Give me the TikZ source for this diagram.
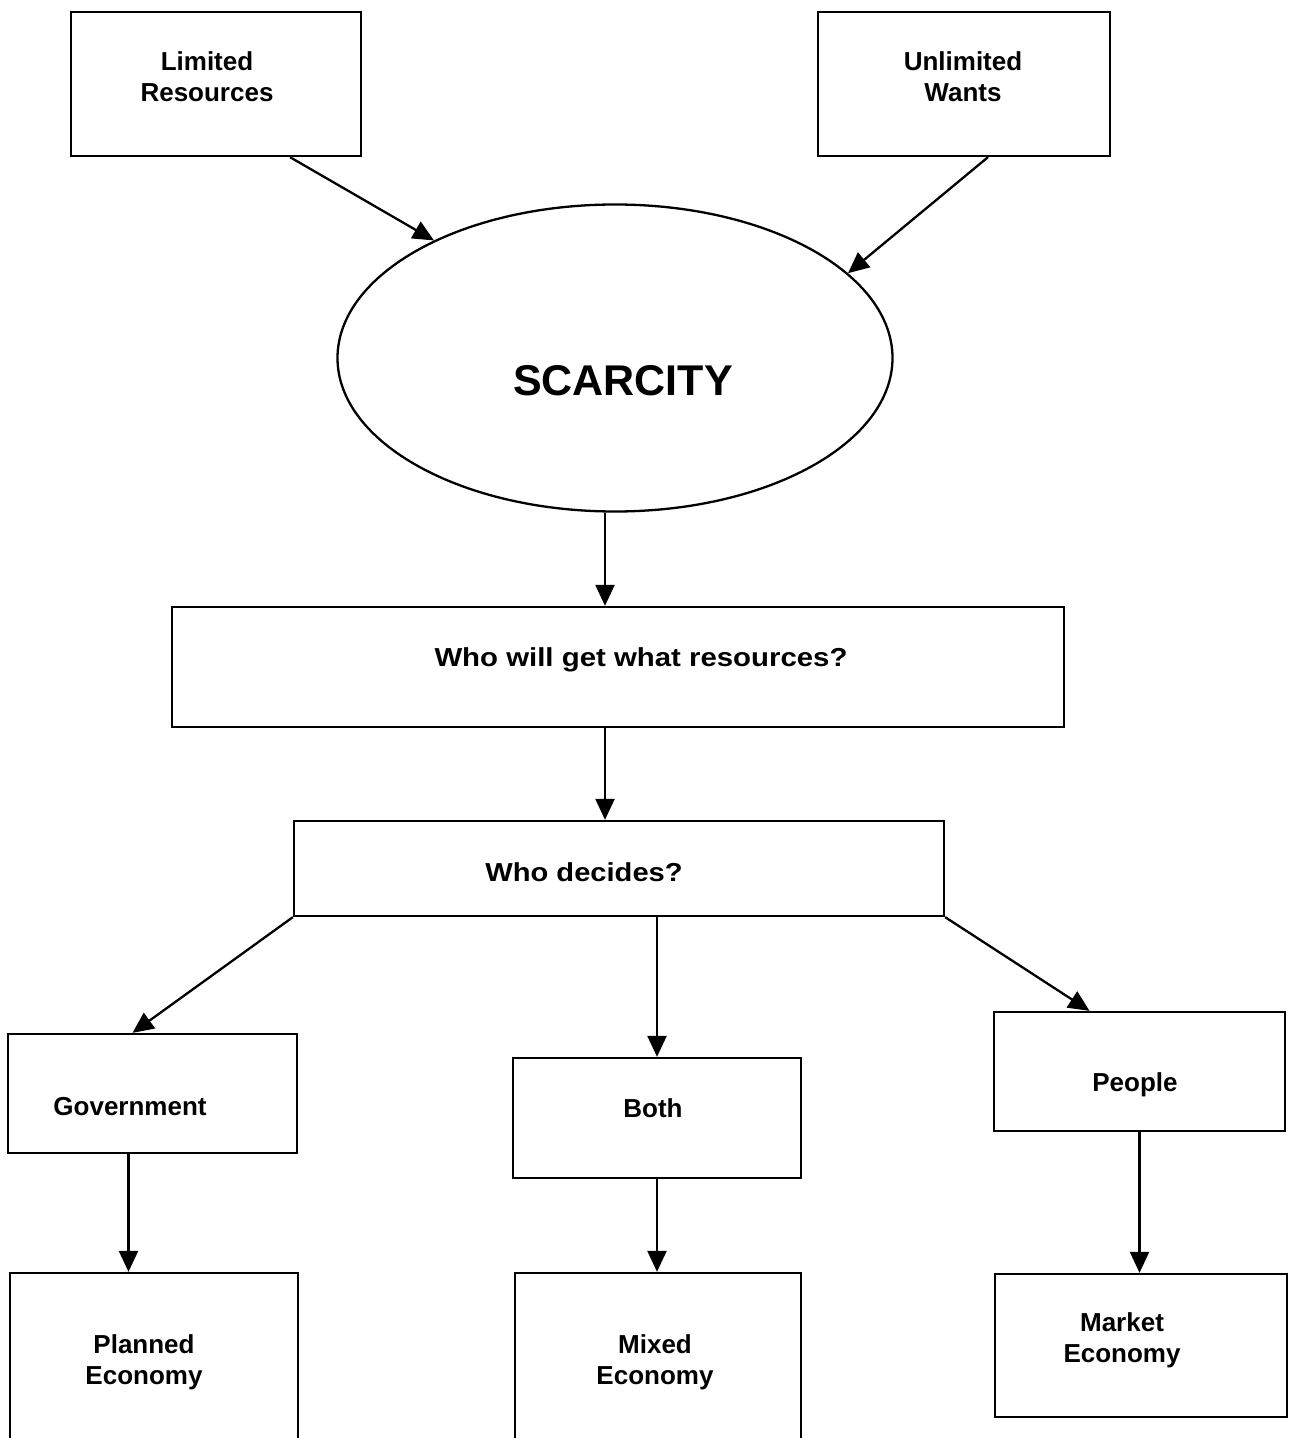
\documentclass[tikz,border=0pt]{standalone}
\usepackage{fontspec}
\setmainfont{Liberation Sans}
\usetikzlibrary{arrows.meta,calc,shapes.geometric}
\begin{document}
\begin{tikzpicture}[x=0.5pt,y=-0.5pt,
  box/.style={draw=black,line width=1.15pt,inner sep=0pt,rectangle},
  txt/.style={font=\bfseries\fontsize{13pt}{15.5pt}\selectfont,align=center,inner sep=0pt},
  arr/.style={line width=1.15pt,-{Triangle[length=10.5pt,width=9.5pt]}}]
\useasboundingbox (0,0) rectangle (1296,1438);
\clip (0,0) rectangle (1296,1438);
% boxes
\node[box,minimum width=145pt,minimum height=72pt] (lim) at (216,84) {};
\node[txt] (limt) at (207,77) {Limited\\Resources};
\node[box,minimum width=146pt,minimum height=72pt] (unl) at (964,84) {};
\node[txt] (unlt) at (963,77) {Unlimited\\Wants};
\node[draw=black,line width=1.15pt,ellipse,inner sep=0pt,minimum width=277.5pt,minimum height=153.5pt] (sc) at (615,358) {};
\node[font=\bfseries\fontsize{21.5pt}{26pt}\selectfont,inner sep=0pt] (sct) at (623,381) {SCARCITY};
\node[box,minimum width=446pt,minimum height=60pt] (who) at (618,667) {};
\node[txt] (whot) at (641,660) {\scalebox{1.13}[1]{Who will get what resources?}};
\node[box,minimum width=325pt,minimum height=47.5pt] (dec) at (619,868.5) {};
\node[txt] (dect) at (584,872) {\scalebox{1.12}[1]{Who decides?}};
\node[box,minimum width=144.5pt,minimum height=59.5pt] (gov) at (152.5,1093.5) {};
\node[txt] (govt) at (130,1107) {Government};
\node[box,minimum width=144pt,minimum height=60pt] (both) at (657,1118) {};
\node[txt] (botht) at (653,1108) {Both};
\node[box,minimum width=145.5pt,minimum height=59.5pt] (peo) at (1139.5,1071.5) {};
\node[txt] (peot) at (1135,1085) {People};
\node[box,minimum width=144pt,minimum height=93.5pt] (pla) at (154,1366.5) {};
\node[txt] (plat) at (144,1362) {Planned\\Economy};
\node[box,minimum width=143pt,minimum height=93.5pt] (mix) at (658,1366.5) {};
\node[txt] (mixt) at (655,1362) {Mixed\\Economy};
\node[box,minimum width=146pt,minimum height=71.5pt] (mkt) at (1141,1345.5) {};
\node[txt] (mktt) at (1122,1340) {Market\\Economy};
% connectors
\coordinate (a1) at ($(lim.south)+(74,0)$);
\draw[arr] (a1) -- (sc.147);
\coordinate (a2) at ($(unl.south)+(24,0)$);
\draw[arr] (a2) -- (sc.20);
\coordinate (a3) at ($(sc.south)+(-10,0)$);
\draw[arr] (a3) -- (a3 |- who.north);
\coordinate (a4) at ($(who.south)+(-13,0)$);
\draw[arr] (a4) -- (a4 |- dec.north);
\draw[arr] (dec.south west) -- ($(gov.north)+(-20,0)$);
\draw[arr] (both.north |- dec.south) -- (both.north);
\draw[arr] (dec.south east) -- ($(peo.north)+(-50,0)$);
\coordinate (a5) at ($(gov.south)+(-24,0)$);
\draw[arr] (a5) -- (a5 |- pla.north);
\draw[arr] (both.south) -- (both.south |- mix.north);
\draw[arr] (peo.south) -- (peo.south |- mkt.north);
\end{tikzpicture}
\end{document}
